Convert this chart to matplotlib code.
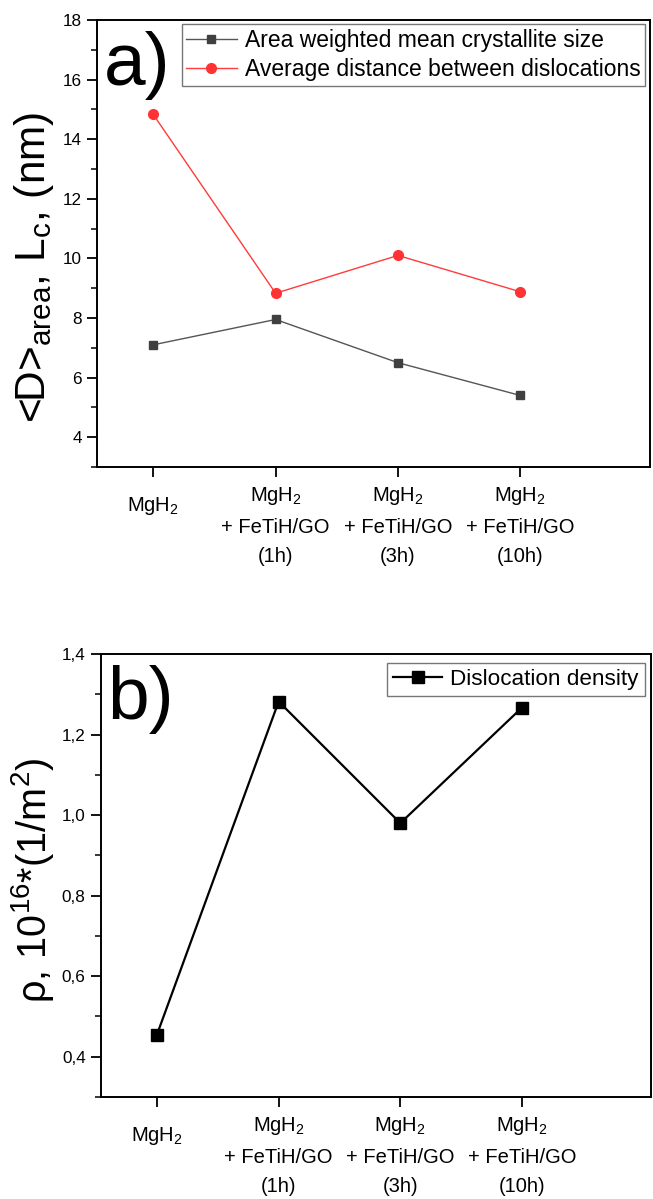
import matplotlib
matplotlib.use("Agg")
import matplotlib.pyplot as plt
from matplotlib.ticker import MultipleLocator, FixedLocator
from matplotlib.transforms import ScaledTranslation

plt.rcParams['font.family'] = ['Liberation Sans', 'DejaVu Sans']
plt.rcParams['mathtext.fontset'] = 'custom'
plt.rcParams['mathtext.rm'] = 'Liberation Sans'
plt.rcParams['mathtext.it'] = 'Liberation Sans:italic'
plt.rcParams['mathtext.default'] = 'regular'

# ---- data ----
categories = ["MgH$_2$",
              "MgH$_2$\n+ FeTiH/GO\n(1h)",
              "MgH$_2$\n+ FeTiH/GO\n(3h)",
              "MgH$_2$\n+ FeTiH/GO\n(10h)"]
crystallite_size = [7.1, 7.95, 6.5, 5.4]
dislocation_distance = [14.83, 8.83, 10.1, 8.88]
dislocation_density = [0.455, 1.282, 0.98, 1.267]
a_yticks = [4, 6, 8, 10, 12, 14, 16, 18]
a_yticklabels = ["4", "6", "8", "10", "12", "14", "16", "18"]
b_yticks = [0.4, 0.6, 0.8, 1.0, 1.2, 1.4]
b_yticklabels = ["0,4", "0,6", "0,8", "1,0", "1,2", "1,4"]

xpos = list(range(len(categories)))

fig = plt.figure(figsize=(6.53, 11.99), dpi=100)
W, H = 653, 1199

def px_axes(x0, y0, x1, y1):
    return fig.add_axes([x0 / W, 1 - y1 / H, (x1 - x0) / W, (y1 - y0) / H])

axa = px_axes(97, 20, 650, 467)
axb = px_axes(101, 654, 651, 1097)

def style(ax, yt, ytl):
    for s in ax.spines.values():
        s.set_linewidth(1.4)
    ax.set_xticks(xpos)
    ax.set_xlim(-0.46, 3 + 1.06)
    ax.yaxis.set_major_locator(FixedLocator(yt))
    ax.tick_params(axis='both', which='major', direction='out', length=7, width=1.3,
                   top=False, right=False)
    ax.tick_params(axis='x', which='major', pad=6)
    ax.tick_params(axis='y', which='major', pad=4)
    ax.tick_params(axis='y', which='minor', direction='out', length=4, width=1.1, right=False)
    ax.set_yticklabels(ytl, fontsize=12.3)
    labels = ax.set_xticklabels(categories, linespacing=1.7, va='top', fontsize=14.5)
    labels[0].set_transform(labels[0].get_transform() +
                            ScaledTranslation(0, -10 / 100, fig.dpi_scale_trans))

# ---- panel a ----
axa.plot(xpos, crystallite_size, '-s', color='#555555', mfc='#404040', mec='#404040',
         lw=1.0, ms=6.2, label='Area weighted mean crystallite size')
axa.plot(xpos, dislocation_distance, '-o', color='#ff3b3b', mfc='#ff3333', mec='#ff3333',
         lw=1.0, ms=7, label='Average distance between dislocations')
axa.set_ylim(3, 18)
style(axa, a_yticks, a_yticklabels)
axa.yaxis.set_minor_locator(MultipleLocator(1))
axa.set_ylabel('<D>$_{area}$, L$_c$, (nm)', fontsize=30.5)
axa.yaxis.set_label_coords(-0.075, 0.447)
lega = axa.legend(loc='upper right', bbox_to_anchor=(0.991, 0.991), borderaxespad=0,
                  fontsize=16.5, frameon=True, fancybox=False, edgecolor='#777777',
                  framealpha=1, handlelength=2.2, handletextpad=0.35, labelspacing=0.3,
                  borderpad=0.2)
lega.get_frame().set_linewidth(1.0)
axa.text(0.012, 0.975, 'a)', transform=axa.transAxes, fontsize=54, va='top', ha='left')

# ---- panel b ----
axb.plot(xpos, dislocation_density, '-s', color='black', lw=1.6, ms=8,
         label='Dislocation density')
axb.set_ylim(0.3, 1.4)
style(axb, b_yticks, b_yticklabels)
axb.yaxis.set_minor_locator(MultipleLocator(0.1))
axb.set_ylabel('ρ, 10$^{16}$*(1/m$^2$)', fontsize=28.5)
axb.yaxis.set_label_coords(-0.082, 0.488)
legb = axb.legend(loc='upper right', bbox_to_anchor=(0.989, 0.98), borderaxespad=0,
                  fontsize=16.2, frameon=True, fancybox=False, edgecolor='#777777',
                  framealpha=1, handlelength=2.2, handletextpad=0.35, borderpad=0.28)
legb.get_frame().set_linewidth(1.0)
axb.text(0.012, 0.975, 'b)', transform=axb.transAxes, fontsize=54, va='top', ha='left')

fig.savefig('out.png', dpi=100)
